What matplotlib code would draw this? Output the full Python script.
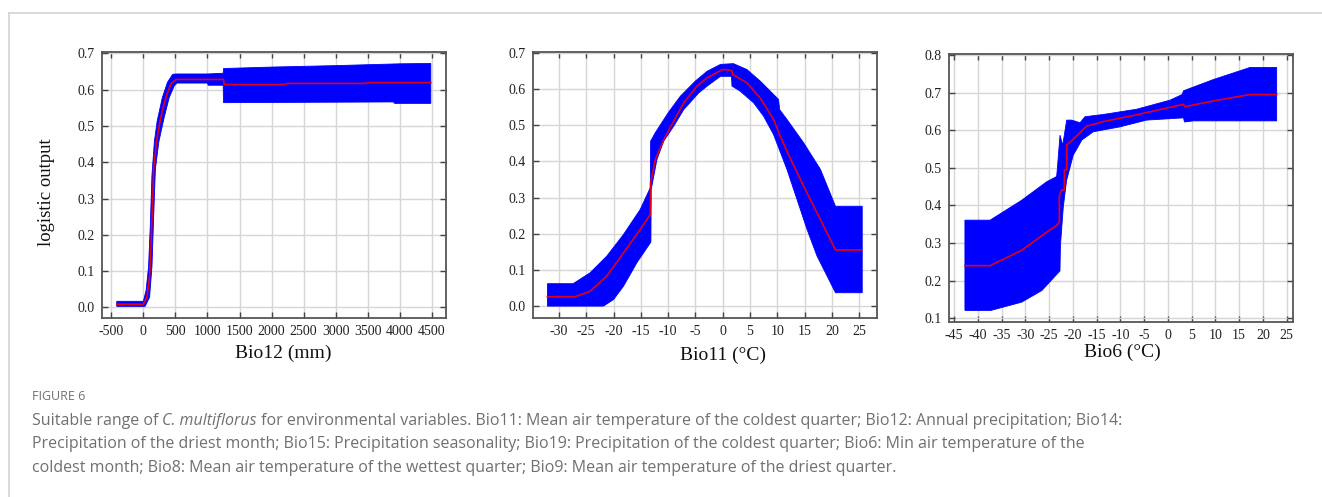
import numpy as np
import matplotlib
matplotlib.use("Agg")
import matplotlib.pyplot as plt
from matplotlib.lines import Line2D
from matplotlib.ticker import FormatStrFormatter

plt.rcParams["font.family"] = ["Liberation Serif", "DejaVu Serif"]
plt.rcParams["axes.unicode_minus"] = False

# ---------------- data ----------------
# Panel 1: Bio12 (mm)
bio12_mean_x = [-415, 0, 54, 97, 118, 140, 161, 204, 269, 349, 430, 511, 1250, 1262, 2200, 2250, 3450, 3500, 4483]
bio12_mean_y = [0.009, 0.009, 0.028, 0.084, 0.168, 0.27, 0.382, 0.457, 0.522, 0.578, 0.616, 0.628, 0.628, 0.614, 0.614, 0.617, 0.617, 0.619, 0.619]
bio12_up_x = [-415, 0, 43, 81, 108, 134, 172, 215, 296, 376, 457, 511, 1000, 1245, 1250, 2000, 3000, 4000, 4483]
bio12_up_y = [0.017, 0.017, 0.047, 0.112, 0.224, 0.364, 0.457, 0.513, 0.578, 0.62, 0.642, 0.643, 0.643, 0.645, 0.658, 0.662, 0.666, 0.671, 0.672]
bio12_lo_x = [-415, 27, 97, 134, 161, 188, 242, 323, 403, 484, 527, 1000, 1010, 1245, 1250, 3900, 3920, 4483]
bio12_lo_y = [0.003, 0.003, 0.028, 0.112, 0.252, 0.382, 0.457, 0.522, 0.578, 0.611, 0.618, 0.618, 0.612, 0.612, 0.564, 0.566, 0.562, 0.562]

# Panel 2: Bio11 (°C)
bio11_mean_x = [-32.1, -27.06, -24.3, -21.24, -18.17, -15.11, -13.27, -13.2, -12.35, -10.8, -8.98, -7.14, -4.7, -2.85, -0.4, 0.1, 1.65, 1.84, 4.41, 6.86, 9.31, 10.05, 10.42, 11.76, 14.83, 17.89, 20.65, 25.37]
bio11_mean_y = [0.026, 0.026, 0.041, 0.083, 0.147, 0.212, 0.253, 0.341, 0.405, 0.46, 0.511, 0.562, 0.608, 0.631, 0.651, 0.654, 0.651, 0.640, 0.617, 0.575, 0.516, 0.488, 0.474, 0.428, 0.331, 0.239, 0.155, 0.155]
bio11_up_x = [-32.1, -27.4, -24.3, -21.24, -18.17, -15.11, -13.27, -13.2, -12.35, -10.0, -7.76, -5.0, -2.85, -0.4, 1.96, 4.41, 6.86, 9.31, 10.23, 10.42, 11.76, 14.83, 17.89, 20.65, 25.55]
bio11_up_y = [0.062, 0.062, 0.092, 0.138, 0.198, 0.267, 0.327, 0.456, 0.479, 0.534, 0.58, 0.622, 0.649, 0.668, 0.67, 0.654, 0.622, 0.585, 0.571, 0.543, 0.516, 0.451, 0.378, 0.276, 0.276]
bio11_lo_x = [-32.1, -21.85, -20.0, -18.17, -15.72, -13.15, -13.1, -12.05, -10.8, -8.98, -7.14, -4.4, -2.85, -0.4, 1.6, 1.7, 3.19, 5.64, 7.48, 9.31, 11.76, 13.6, 15.44, 17.28, 19.12, 20.65, 25.55]
bio11_lo_y = [0.0, 0.0, 0.018, 0.055, 0.12, 0.177, 0.322, 0.405, 0.456, 0.497, 0.543, 0.589, 0.608, 0.635, 0.635, 0.608, 0.594, 0.562, 0.525, 0.474, 0.378, 0.295, 0.212, 0.138, 0.083, 0.037, 0.037]

# Panel 3: Bio6 (°C)
bio6_mean_x = [-42.7, -37.4, -30.75, -25.5, -23.39, -22.83, -22.83, -22.34, -21.78, -21.78, -21.28, -21.28, -20.59, -17.08, -13.6, -6.6, 0.45, 3.27, 3.6, 9.6, 17.3, 22.9]
bio6_mean_y = [0.24, 0.24, 0.281, 0.329, 0.347, 0.356, 0.427, 0.441, 0.441, 0.494, 0.494, 0.561, 0.568, 0.611, 0.623, 0.641, 0.661, 0.669, 0.663, 0.678, 0.695, 0.695]
bio6_up_x = [-42.7, -37.4, -30.75, -25.5, -23.4, -23.25, -22.69, -22.13, -21.28, -20.23, -18.48, -17.43, -13.58, -6.55, 0.45, 3.0, 3.3, 9.6, 17.3, 22.9]
bio6_up_y = [0.361, 0.361, 0.414, 0.463, 0.477, 0.498, 0.587, 0.56, 0.627, 0.627, 0.62, 0.636, 0.642, 0.656, 0.68, 0.695, 0.705, 0.735, 0.767, 0.767]
bio6_lo_x = [-42.7, -37.2, -30.75, -26.5, -22.7, -22.6, -22.0, -21.3, -19.9, -18.1, -15.7, -10.1, -4.5, 3.3, 3.5, 5.4, 22.9]
bio6_lo_y = [0.121, 0.121, 0.143, 0.174, 0.226, 0.294, 0.396, 0.467, 0.534, 0.574, 0.596, 0.609, 0.627, 0.633, 0.622, 0.625, 0.625]

x_labels = ["Bio12 (mm)", "Bio11 (°C)", "Bio6 (°C)"]
y_label = "logistic output"
bio12_xticks = list(range(-500, 5000, 500))
bio11_xticks = list(range(-30, 30, 5))
bio6_xticks = list(range(-45, 30, 5))
yticks_a = [0.0, 0.1, 0.2, 0.3, 0.4, 0.5, 0.6, 0.7]
yticks_b = [0.1, 0.2, 0.3, 0.4, 0.5, 0.6, 0.7, 0.8]

caption_head = "FIGURE 6"
caption_l1a = "Suitable range of "
caption_l1b = "C. multiflorus"
caption_l1c = " for environmental variables. Bio11: Mean air temperature of the coldest quarter; Bio12: Annual precipitation; Bio14:"
caption_l2 = "Precipitation of the driest month; Bio15: Precipitation seasonality; Bio19: Precipitation of the coldest quarter; Bio6: Min air temperature of the"
caption_l3 = "coldest month; Bio8: Mean air temperature of the wettest quarter; Bio9: Mean air temperature of the driest quarter."

# ---------------- figure ----------------
W, H = 1322, 497
fig = plt.figure(figsize=(W / 100, H / 100), dpi=100)
fig.patch.set_facecolor("white")

BLUE = "#0000ff"
RED = "#e0001b"


def px_axes(left, top, right, bottom):
    return fig.add_axes([left / W, 1 - bottom / H, (right - left) / W, (bottom - top) / H])


def style(ax, xticks, yticks, xlim, ylim, xlabel, xlab_pos):
    ax.set_xlim(*xlim)
    ax.set_ylim(*ylim)
    ax.set_xticks(xticks)
    ax.set_yticks(yticks)
    ax.yaxis.set_major_formatter(FormatStrFormatter("%.1f"))
    ax.grid(True, color="#d6d6d6", linewidth=1.0, zorder=0)
    ax.set_axisbelow(True)
    ax.tick_params(direction="in", length=4, width=1.0, color="#444444",
                   top=True, right=True, labelsize=10, pad=5,
                   labelcolor="#222222")
    for s in ax.spines.values():
        s.set_color("#555555")
        s.set_linewidth(1.3)
    ax.set_xlabel(xlabel, fontsize=14, color="#111111")
    ax.xaxis.set_label_coords(xlab_pos[0], xlab_pos[1])
    ax.xaxis.label.set_va("center")


def draw_band(ax, ux, uy, lx, ly, mx, my):
    px = list(ux) + list(lx)[::-1]
    py = list(uy) + list(ly)[::-1]
    ax.fill(px, py, color=BLUE, linewidth=0.6, edgecolor=BLUE, zorder=2)
    ax.plot(mx, my, color=RED, linewidth=1.2, zorder=3)


ax1 = px_axes(102, 52, 446, 318)
draw_band(ax1, bio12_up_x, bio12_up_y, bio12_lo_x, bio12_lo_y, bio12_mean_x, bio12_mean_y)
style(ax1, bio12_xticks, yticks_a, (-645, 4720), (-0.029, 0.7035), x_labels[0], (0.526, -0.132))
ax1.set_ylabel(y_label, fontsize=13.5, color="#111111")
ax1.yaxis.set_label_coords(-0.137, 0.474)

ax2 = px_axes(532.7, 51.7, 876.7, 317.7)
draw_band(ax2, bio11_up_x, bio11_up_y, bio11_lo_x, bio11_lo_y, bio11_mean_x, bio11_mean_y)
style(ax2, bio11_xticks, yticks_a, (-34.8, 28.2), (-0.032, 0.703), x_labels[1], (0.552, -0.14))

ax3 = px_axes(949, 54.3, 1293.3, 321.7)
draw_band(ax3, bio6_up_x, bio6_up_y, bio6_lo_x, bio6_lo_y, bio6_mean_x, bio6_mean_y)
style(ax3, bio6_xticks, yticks_b, (-46.05, 26.4), (0.091, 0.802), x_labels[2], (0.504, -0.115))

# ---------------- frame + caption ----------------
cap = fig.add_axes([0, 0, 1, 1], zorder=-1)
cap.set_xlim(0, W)
cap.set_ylim(H, 0)
cap.axis("off")
cap.add_line(Line2D([8.5, W], [12.5, 12.5], color="#d3d3d3", linewidth=1.2))
cap.add_line(Line2D([8.5, 8.5], [12.5, H], color="#d3d3d3", linewidth=1.2))

CAPF = ["Open Sans", "DejaVu Sans"]
CAPC = "#707070"
CS = 11.5
cap.text(32, 400.5, caption_head, family=CAPF, fontsize=9, color=CAPC, va="baseline", ha="left")
t1 = cap.text(32, 425, caption_l1a, family=CAPF, fontsize=CS, color=CAPC, va="baseline", ha="left")
t2 = cap.annotate(caption_l1b, xy=(1, 0), xycoords=t1, va="bottom", ha="left",
                  family=CAPF, fontsize=CS, color=CAPC, style="italic")
cap.annotate(caption_l1c, xy=(1, 0), xycoords=t2, va="bottom", ha="left",
             family=CAPF, fontsize=CS, color=CAPC)
cap.text(32, 448.5, caption_l2, family=CAPF, fontsize=CS, color=CAPC, va="baseline", ha="left")
cap.text(32, 472, caption_l3, family=CAPF, fontsize=CS, color=CAPC, va="baseline", ha="left")

fig.savefig("out.png", dpi=100, facecolor="white")
